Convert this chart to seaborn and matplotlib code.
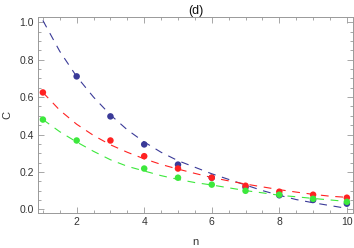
import numpy as np
import pandas as pd
import seaborn as sns
import matplotlib.pyplot as plt
from matplotlib.ticker import MultipleLocator

# measured points (NaN where a point is not visible)
n_points = [1, 2, 3, 4, 5, 6, 7, 8, 9, 10]
blue_pts = [np.nan, 0.711, 0.497, 0.347, 0.239, 0.169, 0.118, 0.075, 0.050, 0.030]
red_pts = [0.625, np.nan, 0.368, 0.284, 0.218, 0.169, 0.126, 0.094, 0.078, 0.062]
green_pts = [0.480, 0.368, np.nan, 0.218, 0.169, 0.132, 0.099, 0.078, 0.056, 0.040]

# fitted curves
n_fit = [1, 1.5, 2, 2.5, 3, 3.5, 4, 4.5, 5, 5.5, 6, 6.5, 7, 7.5, 8, 8.5, 9, 9.5, 10]
blue_fit = [1.01, 0.845, 0.71, 0.60, 0.505, 0.425, 0.36, 0.305, 0.26, 0.225,
            0.19, 0.16, 0.13, 0.10, 0.075, 0.052, 0.035, 0.02, 0.005]
red_fit = [0.625, 0.53, 0.455, 0.395, 0.345, 0.305, 0.27, 0.24, 0.215, 0.192,
           0.17, 0.152, 0.135, 0.12, 0.105, 0.092, 0.08, 0.07, 0.064]
green_fit = [0.48, 0.415, 0.36, 0.31, 0.265, 0.23, 0.205, 0.18, 0.16, 0.143,
             0.13, 0.115, 0.10, 0.088, 0.075, 0.067, 0.058, 0.05, 0.042]

colors = {'blue': '#3a3a98', 'red': '#ff2222', 'green': '#3ce83c'}

sns.set_style("ticks")
plt.rcParams['font.family'] = ['Liberation Sans', 'DejaVu Sans']

fig = plt.figure(figsize=(3.54, 2.48), dpi=100)
ax = fig.add_axes([0.107, 0.141, 0.89, 0.790])

fits = {'blue': blue_fit, 'red': red_fit, 'green': green_fit}
pts = {'blue': blue_pts, 'red': red_pts, 'green': green_pts}

for name in ['blue', 'red', 'green']:
    df_fit = pd.DataFrame({'n': n_fit, 'C': fits[name]})
    sns.lineplot(data=df_fit, x='n', y='C', ax=ax, color=colors[name],
                 lw=0.8, linestyle=(0, (7, 6)), zorder=2)
for name in ['blue', 'red', 'green']:
    df_pts = pd.DataFrame({'n': n_points, 'C': pts[name]}).dropna()
    sns.scatterplot(data=df_pts, x='n', y='C', ax=ax, color=colors[name],
                    s=22, edgecolor='none', zorder=3)

ax.set_xlim(0.852, 10.18)
ax.set_ylim(-0.02, 1.028)
ax.xaxis.set_major_locator(MultipleLocator(2))
ax.xaxis.set_minor_locator(MultipleLocator(0.5))
ax.yaxis.set_major_locator(MultipleLocator(0.2))
ax.yaxis.set_minor_locator(MultipleLocator(0.05))
ax.tick_params(which='both', direction='in', top=True, right=True,
               color='#999999', width=0.6, labelsize=7.5, labelcolor='#333333',
               pad=3)
ax.tick_params(which='major', length=4)
ax.tick_params(which='minor', length=2.2)
for sp in ax.spines.values():
    sp.set_color('#999999')
    sp.set_linewidth(0.7)

ax.set_xlabel('n', fontsize=8, color='#333333', labelpad=7)
ax.set_ylabel('C', fontsize=8, color='#333333', labelpad=5)
ax.set_title('(d)', fontsize=9, color='#111111', pad=1.5)

plt.savefig('out.png', dpi=100)
